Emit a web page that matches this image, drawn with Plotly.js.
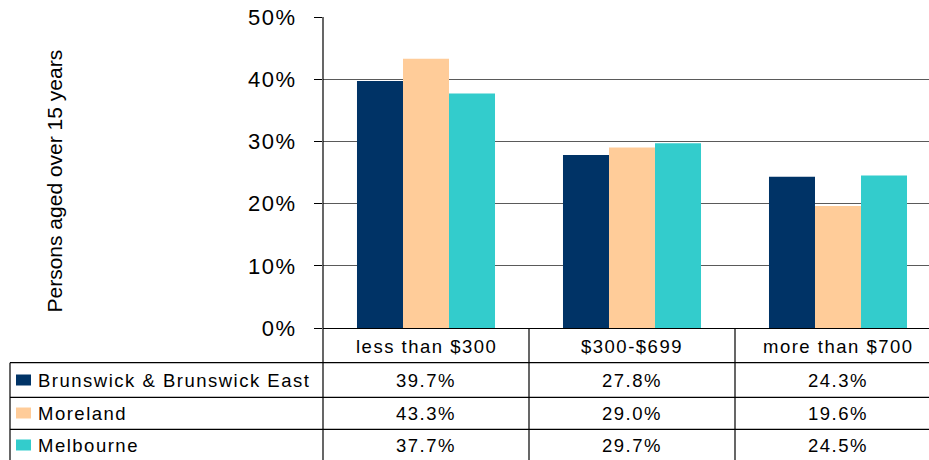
<!DOCTYPE html>
<html>
<head>
<meta charset="utf-8">
<script src="https://cdn.plot.ly/plotly-3.0.1.min.js"></script>
<style>
html,body{margin:0;padding:0;background:#fff;}
#chart{width:929px;height:460px;}
.annotation-text{letter-spacing:1.5px;}
.ytick text{letter-spacing:1.5px;}
#chart g.annotation:last-of-type .annotation-text{letter-spacing:0px;}
</style>
</head>
<body>
<div id="chart"></div>
<script>
const categories = ["less than $300", "$300-$699", "more than $700"];
const seriesNames = ["Brunswick & Brunswick East", "Moreland", "Melbourne"];
const brunswick = [39.7, 27.8, 24.3];
const moreland = [43.3, 29.0, 19.6];
const melbourne = [37.7, 29.7, 24.5];
const yTickVals = [0, 10, 20, 30, 40, 50];
const yTickText = ["0%", "10%", "20%", "30%", "40%", "50%"];
const colors = ["#003366", "#FFCC99", "#33CCCC"];

const series = [brunswick, moreland, melbourne];

const W = 929, H = 460;
const L = 323, T = 17, B = 132;
const plotW = W - L, plotH = H - T - B;
const px = x => (x - L) / plotW;
const py = y => (T + plotH - y) / plotH;
const FONT = "Liberation Sans, Arial, sans-serif";

const traces = series.map((vals, i) => ({
  type: "bar",
  x: categories,
  y: vals,
  name: seriesNames[i],
  marker: {color: colors[i], line: {width: 0}},
  hoverinfo: "skip"
}));

const shapes = [];
const annotations = [];
const line = (x0, y0, x1, y1) => shapes.push({type: "line", xref: "paper", yref: "paper",
  x0: px(x0), y0: py(y0), x1: px(x1), y1: py(y1), line: {color: "#000", width: 1.2}, layer: "above"});

// y axis line extending through table
line(323, 17, 323, 460);
// table horizontal lines
[362.7, 397.3, 429.3].forEach(y => line(10, y, 929, y));
// table left border
line(10, 362.7, 10, 460);
// column separators
[529, 735].forEach(x => line(x, 328, x, 460));

// category labels row
const rowY = [380, 413, 445];
categories.forEach(c => annotations.push({xref: "x", yref: "paper", x: c, y: py(346),
  text: c, showarrow: false, xanchor: "center", yanchor: "middle", align: "center",
  font: {family: FONT, size: 18.5, color: "#000"}}));

series.forEach((vals, i) => {
  // legend key
  shapes.push({type: "rect", xref: "paper", yref: "paper", x0: px(16), x1: px(31),
    y0: py(rowY[i] - 5.5), y1: py(rowY[i] + 5.5), fillcolor: colors[i], line: {width: 0}});
  annotations.push({xref: "paper", yref: "paper", x: px(36), y: py(rowY[i]), text: seriesNames[i],
    showarrow: false, xanchor: "left", yanchor: "middle", align: "left",
    font: {family: FONT, size: 18.5, color: "#000"}});
  vals.forEach((v, j) => annotations.push({xref: "x", yref: "paper", x: categories[j], y: py(rowY[i]),
    text: v.toFixed(1) + "%", showarrow: false, xanchor: "center", yanchor: "middle", align: "center",
    font: {family: FONT, size: 18.5, color: "#000"}}));
});

// y axis title (kept last: no letter spacing)
annotations.push({xref: "paper", yref: "paper", x: px(54), y: py(181), text: "Persons aged over 15 years",
  textangle: -90, showarrow: false, xanchor: "center", yanchor: "middle",
  font: {family: FONT, size: 21, color: "#000"}});

const layout = {
  width: W, height: H,
  margin: {l: L, r: 0, t: T, b: B, pad: 0},
  paper_bgcolor: "#fff", plot_bgcolor: "#fff",
  showlegend: false,
  barmode: "group", bargap: 0.33, bargroupgap: 0,
  xaxis: {type: "category", range: [-0.5, -0.5 + plotW / 206], showticklabels: false, ticks: "",
    showgrid: false, zeroline: false, showline: true, linecolor: "#000", linewidth: 1.2, fixedrange: true},
  yaxis: {range: [0, 50], tickvals: yTickVals, ticktext: yTickText, ticks: "outside", ticklen: 8,
    tickcolor: "#000", tickwidth: 1, ticklabelstandoff: 13,
    tickfont: {family: FONT, size: 22, color: "#000"}, showgrid: true, gridcolor: "#5a5a5a", gridwidth: 1.3,
    zeroline: false, showline: false, fixedrange: true},
  shapes: shapes,
  annotations: annotations
};

Plotly.newPlot("chart", traces, layout, {staticPlot: true, displayModeBar: false});
</script>
</body>
</html>
